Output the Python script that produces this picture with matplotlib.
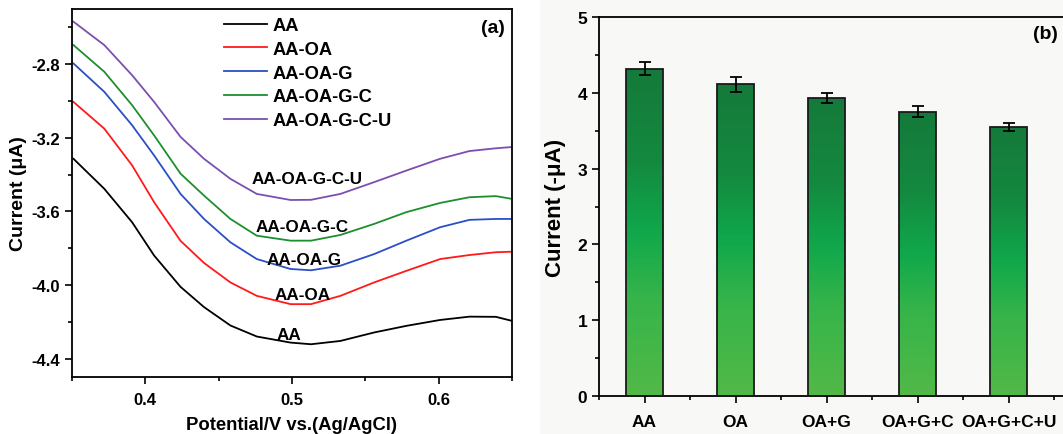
import numpy as np
import matplotlib
matplotlib.use("Agg")
import matplotlib.pyplot as plt
from matplotlib.colors import LinearSegmentedColormap
from matplotlib.patches import Rectangle
from matplotlib.ticker import MultipleLocator

plt.rcParams["font.family"] = ["Liberation Sans", "DejaVu Sans"]
plt.rcParams["font.weight"] = "bold"
plt.rcParams["axes.unicode_minus"] = False

# ---------- data (a): DPV curves ----------
potential = [0.351, 0.372, 0.391, 0.406, 0.424, 0.440, 0.458, 0.476, 0.499,
             0.513, 0.533, 0.556, 0.578, 0.601, 0.621, 0.639, 0.650]
cur_aa = [-3.314, -3.477, -3.659, -3.840, -4.010, -4.120, -4.220, -4.280, -4.313,
          -4.322, -4.304, -4.258, -4.222, -4.190, -4.172, -4.173, -4.195]
cur_aa_oa = [-3.005, -3.150, -3.350, -3.550, -3.760, -3.880, -3.986, -4.059, -4.104,
             -4.104, -4.059, -3.986, -3.923, -3.859, -3.837, -3.822, -3.819]
cur_aa_oa_g = [-2.796, -2.950, -3.132, -3.296, -3.505, -3.641, -3.768, -3.859, -3.913,
               -3.920, -3.895, -3.832, -3.759, -3.686, -3.646, -3.641, -3.641]
cur_aa_oa_g_c = [-2.696, -2.841, -3.023, -3.187, -3.395, -3.514, -3.641, -3.732, -3.759,
                 -3.759, -3.728, -3.668, -3.604, -3.554, -3.523, -3.517, -3.532]
cur_aa_oa_g_c_u = [-2.569, -2.696, -2.860, -3.005, -3.195, -3.314, -3.423, -3.505, -3.538,
                   -3.537, -3.505, -3.441, -3.378, -3.314, -3.272, -3.257, -3.250]

series_names = ["AA", "AA-OA", "AA-OA-G", "AA-OA-G-C", "AA-OA-G-C-U"]
series_vals = [cur_aa, cur_aa_oa, cur_aa_oa_g, cur_aa_oa_g_c, cur_aa_oa_g_c_u]
series_colors = ["black", "#ff1a1a", "#2b4fc4", "#1e8f2e", "#7b4fb0"]
# where the in-plot labels sit (x, y)
label_pos = [(0.498, -4.267), (0.507, -4.05), (0.508, -3.864), (0.507, -3.683), (0.51, -3.423)]

# ---------- data (b): bar chart ----------
groups = ["AA", "OA", "OA+G", "OA+G+C", "OA+G+C+U"]
peak_current = [4.32, 4.11, 3.93, 3.75, 3.55]
peak_err = [0.08, 0.10, 0.07, 0.07, 0.055]

fig = plt.figure(figsize=(10.63, 4.35), dpi=100)

# faint panel backdrop for (b)
fig.patches.append(Rectangle((540 / 1063, 0), 1 - 540 / 1063, 1, transform=fig.transFigure,
                             facecolor="#f8f8f7", edgecolor="none", zorder=-5))

# ---------- panel (a) ----------
ax1 = fig.add_axes([72 / 1063, 57 / 435, 440 / 1063, 368 / 435])
for name, vals, col in zip(series_names, series_vals, series_colors):
    ax1.plot(potential, vals, color=col, lw=1.3, label=name, solid_joinstyle="round")
for name, (lx, ly) in zip(series_names, label_pos):
    ax1.text(lx, ly, name, ha="center", va="center", fontsize=12.3, fontweight="bold")

ax1.set_xlim(0.35, 0.65)
ax1.set_ylim(-4.5, -2.5)
ax1.xaxis.set_major_locator(MultipleLocator(0.1))
ax1.xaxis.set_minor_locator(MultipleLocator(0.05))
ax1.yaxis.set_minor_locator(MultipleLocator(0.2))
ax1.set_yticks([-2.8, -3.2, -3.6, -4.0, -4.4])
ax1.tick_params(which="both", direction="out", width=1.2, labelsize=12)
ax1.tick_params(which="major", length=5)
ax1.tick_params(which="minor", length=3)
ax1.tick_params(axis="x", pad=6)
for lab in ax1.get_xticklabels() + ax1.get_yticklabels():
    lab.set_fontweight("bold")
for sp in ax1.spines.values():
    sp.set_linewidth(1.3)
ax1.set_xlabel("Potential/V vs.(Ag/AgCl)", fontsize=13.3, fontweight="bold", labelpad=6)
ax1.set_ylabel("Current (\u03bcA)", fontsize=14, fontweight="bold", labelpad=3)
ax1.text(0.957, 0.951, "(a)", transform=ax1.transAxes, ha="center", va="center",
         fontsize=14, fontweight="bold")
ax1.legend(loc="upper left", bbox_to_anchor=(0.345, 0.978), frameon=False,
           handlelength=2.35, handletextpad=0.3, labelspacing=0.37,
           borderpad=0, borderaxespad=0, prop={"weight": "bold", "size": 13.2})

# ---------- panel (b) ----------
ax2 = fig.add_axes([599 / 1063, 38 / 435, 485 / 1063, 379 / 435])
ax2.set_facecolor("none")
xpos = np.arange(len(groups))
bars = ax2.bar(xpos, peak_current, width=0.4, color="none", edgecolor="#1a1a1a",
               linewidth=1.3, zorder=3)
ax2.errorbar(xpos, peak_current, yerr=peak_err, fmt="none", ecolor="black",
             elinewidth=1.3, capsize=4, capthick=1.3, zorder=4)

grad = LinearSegmentedColormap.from_list(
    "bargrad", [(0.0, "#52b947"), (0.3, "#36b44a"), (0.5, "#10a84b"),
                (0.72, "#14893f"), (1.0, "#157a3b")])
ramp = np.linspace(0, 1, 256).reshape(-1, 1)
for b in bars:
    x0, w, h = b.get_x(), b.get_width(), b.get_height()
    im = ax2.imshow(ramp, cmap=grad, origin="lower", aspect="auto",
                    extent=(x0, x0 + w, 0, h), zorder=2)
    im.set_clip_path(b)

ax2.set_xlim(-0.5, -0.5 + 485 / 91)
ax2.set_ylim(0, 5)
ax2.set_xticks(xpos)
ax2.set_xticklabels(groups)
ax2.xaxis.set_minor_locator(MultipleLocator(0.5))
ax2.yaxis.set_major_locator(MultipleLocator(1))
ax2.yaxis.set_minor_locator(MultipleLocator(0.5))
ax2.tick_params(which="both", direction="out", width=1.2, labelsize=12.5)
ax2.tick_params(which="major", length=5)
ax2.tick_params(which="minor", length=3)
ax2.tick_params(axis="x", pad=8)
for lab in ax2.get_xticklabels() + ax2.get_yticklabels():
    lab.set_fontweight("bold")
for sp in ax2.spines.values():
    sp.set_linewidth(1.3)
ax2.spines["right"].set_visible(False)
ax2.set_ylabel("Current (-\u03bcA)", fontsize=16, fontweight="bold", labelpad=8)
ax2.text(4.41, 4.78, "(b)", ha="center", va="center", fontsize=14, fontweight="bold")

fig.savefig("out.png", dpi=100)
